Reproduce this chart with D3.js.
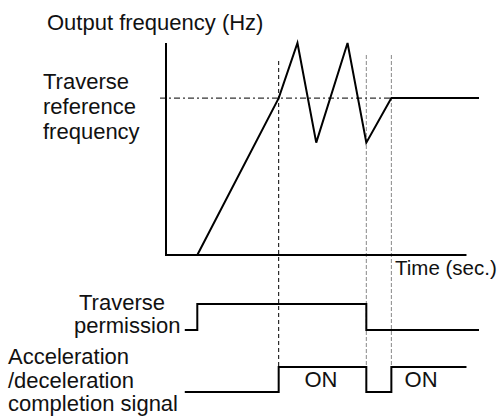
<!DOCTYPE html>
<html>
<head>
<meta charset="utf-8">
<script src="https://cdn.jsdelivr.net/npm/d3@7"></script>
<style>
  body { margin: 0; background: #fff; }
  svg text { font-family: "Liberation Sans", Arial, sans-serif; font-size: 22px; fill: #111; }
</style>
</head>
<body>
<svg id="chart" width="502" height="419"></svg>
<script>
// output frequency over time (arbitrary units, 0-100)
const freqTimes = [10, 36, 42, 48, 58, 64, 72, 100];
const freqValues = [0, 74, 100, 53, 100, 53, 74, 74];
const refFreq = 74;

// timing signals: [time, level]
const permTimes = [6, 10, 10, 64, 64, 100];
const permLevels = [0, 0, 1, 1, 0, 0];
const accTimes = [6, 36, 36, 64, 64, 72, 72, 96];
const accLevels = [0, 0, 1, 1, 0, 0, 1, 1];

const markerTimes = [36, 64, 72];
const onLabels = [{ t: 49.5, text: "ON" }, { t: 81.5, text: "ON" }];

const svg = d3.select("svg#chart");

const x = d3.scaleLinear().domain([0, 100]).range([166, 479]);
const y = d3.scaleLinear().domain([0, 100]).range([255, 43]);
const yPerm = d3.scaleLinear().domain([0, 1]).range([330, 304]);
const yAcc = d3.scaleLinear().domain([0, 1]).range([392, 367]);

// vertical marker lines
svg.append("g")
    .selectAll("line")
    .data(markerTimes)
    .join("line")
    .attr("x1", d => x(d)).attr("x2", d => x(d))
    .attr("y1", (d, i) => i === 0 ? 61 : 55)
    .attr("y2", yAcc(1))
    .attr("stroke", (d, i) => i === 0 ? "#000" : "#888")
    .attr("stroke-width", 1)
    .attr("stroke-dasharray", (d, i) => i === 0 ? "4,3" : "4,2");

// reference frequency line
svg.append("line")
    .attr("x1", x(0) - 6).attr("x2", x(72))
    .attr("y1", y(refFreq)).attr("y2", y(refFreq))
    .attr("stroke", "#333")
    .attr("stroke-width", 1.3)
    .attr("stroke-dasharray", "6,3,2,3");

// axes
const axes = svg.append("g").attr("stroke", "#000").attr("stroke-width", 2);
axes.append("line").attr("x1", x(0)).attr("x2", x(0)).attr("y1", y(100)).attr("y2", y(0) + 1);
axes.append("line").attr("x1", x(0)).attr("x2", x(96)).attr("y1", y(0)).attr("y2", y(0));

const freqLine = d3.line().x(d => x(d[0])).y(d => y(d[1]));
svg.append("path")
    .datum(d3.zip(freqTimes, freqValues))
    .attr("d", freqLine)
    .attr("fill", "none")
    .attr("stroke", "#000")
    .attr("stroke-width", 2);

svg.append("path")
    .datum(d3.zip(permTimes, permLevels))
    .attr("d", d3.line().x(d => x(d[0])).y(d => yPerm(d[1])))
    .attr("fill", "none")
    .attr("stroke", "#000")
    .attr("stroke-width", 2);

svg.append("path")
    .datum(d3.zip(accTimes, accLevels))
    .attr("d", d3.line().x(d => x(d[0])).y(d => yAcc(d[1])))
    .attr("fill", "none")
    .attr("stroke", "#000")
    .attr("stroke-width", 2);

// labels
function label(txt, px, py, size) {
    svg.append("text").attr("x", px).attr("y", py)
        .style("font-size", size ? size + "px" : null).text(txt);
}
label("Output frequency (Hz)", 47, 30);
label("Traverse", 43, 89);
label("reference", 43, 114);
label("frequency", 43, 139);
label("Time (sec.)", 395, 275, 20.5);
label("Traverse", 79, 310);
label("permission", 74, 333);
label("Acceleration", 8, 364);
label("/deceleration", 8, 388);
label("completion signal", 8, 411);

svg.append("g")
    .selectAll("text")
    .data(onLabels)
    .join("text")
    .attr("x", d => x(d.t))
    .attr("y", 387)
    .attr("text-anchor", "middle")
    .text(d => d.text);
</script>
</body>
</html>
